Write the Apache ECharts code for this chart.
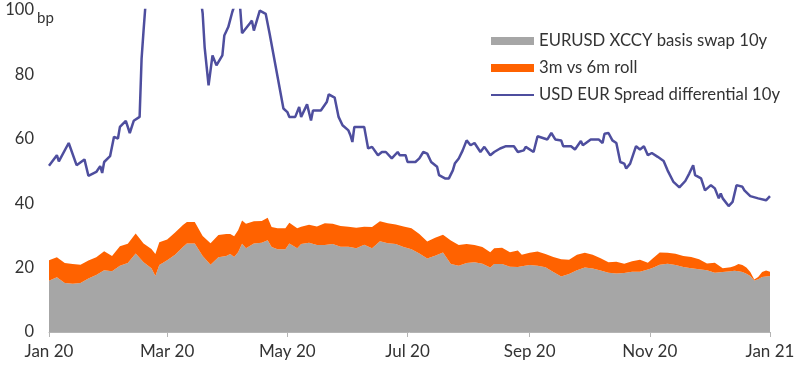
<!DOCTYPE html>
<html>
<head>
<meta charset="utf-8">
<script src="https://cdn.jsdelivr.net/npm/echarts@6/dist/echarts.min.js"></script>
<style>
html,body{margin:0;padding:0;background:#fff;}
#chart{width:800px;height:371px;}
</style>
</head>
<body>
<div id="chart"></div>
<script>
// ---- Data ----
var lineDates = [
'2020-01-01','2020-01-05','2020-01-06','2020-01-11','2020-01-15','2020-01-19','2020-01-21','2020-01-25','2020-01-27','2020-01-28',
'2020-01-29','2020-02-01','2020-02-03','2020-02-05','2020-02-06','2020-02-09','2020-02-11','2020-02-13','2020-02-16','2020-02-17',
'2020-02-18','2020-02-20','2020-02-23','2020-02-26','2020-03-01','2020-03-05','2020-03-09','2020-03-13','2020-03-17','2020-03-19',
'2020-03-20','2020-03-22','2020-03-24','2020-03-26','2020-03-29','2020-03-30','2020-04-01','2020-04-03','2020-04-05','2020-04-07',
'2020-04-08','2020-04-12','2020-04-13','2020-04-14','2020-04-15','2020-04-17','2020-04-20','2020-04-22','2020-04-29','2020-05-01',
'2020-05-02','2020-05-05','2020-05-07','2020-05-08','2020-05-11','2020-05-13','2020-05-14','2020-05-18','2020-05-21','2020-05-22',
'2020-05-25','2020-05-27','2020-05-29','2020-06-01','2020-06-02','2020-06-03','2020-06-04','2020-06-09','2020-06-11','2020-06-13',
'2020-06-16','2020-06-18','2020-06-20','2020-06-23','2020-06-26','2020-06-27','2020-06-30','2020-07-01','2020-07-05','2020-07-07',
'2020-07-09','2020-07-11','2020-07-13','2020-07-16','2020-07-17','2020-07-20','2020-07-22','2020-07-24','2020-07-25','2020-07-27',
'2020-07-29','2020-07-31','2020-08-02','2020-08-04','2020-08-07','2020-08-09','2020-08-12','2020-08-14','2020-08-17','2020-08-20',
'2020-08-24','2020-08-26','2020-08-29','2020-08-30','2020-09-03','2020-09-05','2020-09-10','2020-09-12','2020-09-13','2020-09-14',
'2020-09-17','2020-09-18','2020-09-22','2020-09-24','2020-09-27','2020-09-28','2020-10-02','2020-10-06','2020-10-08','2020-10-09',
'2020-10-11','2020-10-13','2020-10-15','2020-10-17','2020-10-19','2020-10-20','2020-10-22','2020-10-25','2020-10-27','2020-10-29',
'2020-10-31','2020-11-02','2020-11-05','2020-11-08','2020-11-10','2020-11-13','2020-11-16','2020-11-19','2020-11-21','2020-11-22',
'2020-11-23','2020-11-24','2020-11-25','2020-11-27','2020-11-29','2020-12-02','2020-12-04','2020-12-06','2020-12-07','2020-12-08',
'2020-12-09','2020-12-11','2020-12-13','2020-12-15','2020-12-18','2020-12-19','2020-12-22','2020-12-23','2020-12-26','2020-12-27',
'2020-12-30','2021-01-01'
];
var spreadDiff = [
51.6,54.9,53.0,58.7,51.8,53.6,48.5,49.7,51.5,49.4,
52.8,54.6,60.6,60.1,63.7,65.6,61.8,65.6,66.8,84.9,
93.6,110,125,140,130,150,135,120,108,99,
88.5,76.6,85.9,82.8,85.9,92.1,94.7,99.3,103,101,
92.8,95.9,96.7,93.6,94.1,99.8,98.8,92.6,69.4,68.3,
66.8,66.8,69.9,66.8,70.7,65.7,68.8,68.8,71.4,73.8,
72.8,66.8,64.2,62.6,61.1,59.0,63.7,63.7,57.0,57.5,
54.9,55.9,55.9,53.9,55.9,54.9,54.9,52.8,52.8,53.9,
55.9,55.4,52.8,51.3,48.7,47.7,47.7,50.2,52.3,53.9,
56.4,59.5,58.0,58.7,55.9,57.5,54.9,55.9,57.0,57.7,
57.7,55.9,56.4,57.5,55.9,60.8,59.8,61.8,61.8,59.8,
59.5,57.7,57.7,56.7,59.3,58.0,59.8,59.8,58.7,61.6,
61.8,59.5,58.7,52.8,52.3,50.8,52.3,57.7,56.7,57.7,
54.9,55.6,54.4,53.1,50.2,46.6,44.9,46.9,49.2,48.7,
51.8,48.7,48.2,47.7,44.0,45.6,44.6,41.5,43.0,41.5,
40.9,39.1,40.4,45.6,45.1,44.0,42.2,41.8,41.5,40.9,
40.9,42.2
];

var areaDates = [
'2020-01-01','2020-01-05','2020-01-09','2020-01-13','2020-01-17','2020-01-21','2020-01-25','2020-01-29','2020-02-02','2020-02-06',
'2020-02-10','2020-02-14','2020-02-18','2020-02-22','2020-02-24','2020-02-26','2020-03-01','2020-03-05','2020-03-09','2020-03-11',
'2020-03-15','2020-03-19','2020-03-23','2020-03-27','2020-03-31','2020-04-02','2020-04-04','2020-04-06','2020-04-08','2020-04-10',
'2020-04-14','2020-04-18','2020-04-21','2020-04-23','2020-04-26','2020-04-30','2020-05-02','2020-05-06','2020-05-08','2020-05-12',
'2020-05-16','2020-05-20','2020-05-24','2020-05-28','2020-06-01','2020-06-05','2020-06-09','2020-06-13','2020-06-17','2020-06-21',
'2020-06-25','2020-06-29','2020-07-03','2020-07-07','2020-07-11','2020-07-15','2020-07-19','2020-07-23','2020-07-27','2020-07-31',
'2020-08-04','2020-08-08','2020-08-12','2020-08-14','2020-08-18','2020-08-22','2020-08-26','2020-08-28','2020-09-01','2020-09-05',
'2020-09-09','2020-09-13','2020-09-17','2020-09-21','2020-09-25','2020-09-29','2020-10-03','2020-10-07','2020-10-11','2020-10-15',
'2020-10-19','2020-10-23','2020-10-27','2020-10-31','2020-11-02','2020-11-06','2020-11-10','2020-11-14','2020-11-18','2020-11-22',
'2020-11-26','2020-11-30','2020-12-04','2020-12-08','2020-12-12','2020-12-14','2020-12-16','2020-12-18','2020-12-20','2020-12-22',
'2020-12-24','2020-12-26','2020-12-28','2020-12-30','2021-01-01'
];
var basisSwap = [
15.9,17.0,15.2,15.0,15.2,16.6,17.7,19.2,18.9,20.6,
21.4,24.4,21.7,19.8,17.4,20.8,22.3,24.0,26.4,27.5,
27.5,23.6,20.9,23.2,23.6,24.2,23.3,24.8,27.4,26.0,
27.5,27.7,28.5,26.4,25.7,25.7,27.5,26.0,27.3,27.7,
27.0,27.0,27.3,26.5,26.5,26.0,27.1,26.0,28.2,27.6,
27.3,26.4,25.7,24.4,22.8,23.7,24.7,21.1,20.6,21.4,
21.7,21.2,20.0,21.1,21.1,20.3,20.2,20.4,20.8,20.6,
20.1,18.6,17.2,18.0,19.2,20.0,19.7,19.1,18.4,18.2,
18.3,18.7,18.7,19.4,19.8,20.9,21.2,20.8,20.2,19.8,
19.5,19.2,18.4,18.6,18.9,19.0,18.9,18.6,18.1,17.4,
16.0,16.4,17.1,17.2,17.4
];
var roll3m6m = [
6.4,6.2,6.2,6.1,5.7,5.6,5.5,5.9,4.7,6.0,
6.0,6.2,5.8,6.0,6.8,7.1,6.4,6.9,6.8,6.7,
6.7,6.2,6.7,6.9,6.8,6.2,6.4,6.8,7.2,7.6,
6.9,6.8,7.0,6.2,6.5,6.5,6.4,6.2,5.4,5.6,
5.8,6.8,6.3,6.4,6.2,6.4,5.6,6.6,6.2,6.2,
6.1,6.4,6.5,6.0,5.3,5.6,5.5,7.3,6.4,5.9,
5.3,5.2,4.8,4.9,5.1,4.5,5.1,3.6,3.8,4.4,
4.1,4.7,5.4,4.4,4.8,4.6,4.3,3.8,3.3,3.6,
2.9,3.3,3.7,2.1,2.8,3.8,3.4,3.5,3.4,3.5,
3.1,2.1,3.1,1.2,1.2,1.5,2.2,2.2,1.9,1.2,
0.3,0.7,1.5,1.9,1.3
];

var seriesNames = ['EURUSD XCCY basis swap 10y', '3m vs 6m roll', 'USD EUR Spread differential 10y'];
var monthNames = ['Jan','Feb','Mar','Apr','May','Jun','Jul','Aug','Sep','Oct','Nov','Dec'];

function zip(xs, ys) { return xs.map(function (x, i) { return [x, ys[i]]; }); }

var FONT = 'Lato';
var chart = echarts.init(document.getElementById('chart'), null, {renderer: 'canvas'});
chart.setOption({
  animation: false,
  backgroundColor: '#ffffff',
  textStyle: {fontFamily: FONT},
  grid: {left: 49, right: 30, top: 10, bottom: 39, containLabel: false},
  graphic: [{
    type: 'text', left: 37, top: 11,
    style: {text: 'bp', fontSize: 15, fontFamily: FONT, fill: '#333'}
  }],
  legend: {
    orient: 'vertical',
    left: 490, top: 32,
    padding: 0,
    itemWidth: 43, itemHeight: 8, itemGap: 9,
    textStyle: {fontSize: 16.7, color: '#333', fontFamily: FONT, lineHeight: 18},
    data: [
      {name: seriesNames[0], icon: 'rect'},
      {name: seriesNames[1], icon: 'rect'},
      {name: seriesNames[2], itemStyle: {opacity: 0}, lineStyle: {width: 2}}
    ]
  },
  xAxis: {
    type: 'time',
    min: '2020-01-01',
    max: '2021-01-01',
    splitNumber: 6,
    axisLine: {show: true, lineStyle: {color: '#b4b4b4', width: 1}},
    axisTick: {show: true, length: 5, lineStyle: {color: '#b4b4b4'}},
    splitLine: {show: false},
    axisLabel: {
      fontSize: 17, color: '#333', margin: 11, fontFamily: FONT,
      showMinLabel: true, showMaxLabel: true, hideOverlap: false,
      formatter: function (v) {
        var d = new Date(v);
        return monthNames[d.getMonth()] + ' ' + String(d.getFullYear()).slice(2);
      }
    }
  },
  yAxis: {
    type: 'value', min: 0, max: 100, interval: 20,
    axisLine: {show: false}, axisTick: {show: false}, splitLine: {show: false},
    axisLabel: {fontSize: 16.5, color: '#333', margin: 15, fontFamily: FONT}
  },
  series: [
    {
      name: seriesNames[0], type: 'line', stack: 'xccy',
      data: zip(areaDates, basisSwap),
      symbol: 'none', showSymbol: false,
      color: '#a6a6a6',
      lineStyle: {width: 0},
      areaStyle: {color: '#a6a6a6', opacity: 1},
      itemStyle: {color: '#a6a6a6'}
    },
    {
      name: seriesNames[1], type: 'line', stack: 'xccy',
      data: zip(areaDates, roll3m6m),
      symbol: 'none', showSymbol: false,
      color: '#ff6200',
      lineStyle: {width: 0},
      areaStyle: {color: '#ff6200', opacity: 1},
      itemStyle: {color: '#ff6200'}
    },
    {
      name: seriesNames[2], type: 'line',
      data: zip(lineDates, spreadDiff),
      symbol: 'none', showSymbol: false,
      clip: true,
      color: '#4e4e9e',
      lineStyle: {width: 2.5, color: '#4e4e9e'},
      itemStyle: {color: '#4e4e9e'},
      z: 3
    }
  ]
});
</script>
</body>
</html>
